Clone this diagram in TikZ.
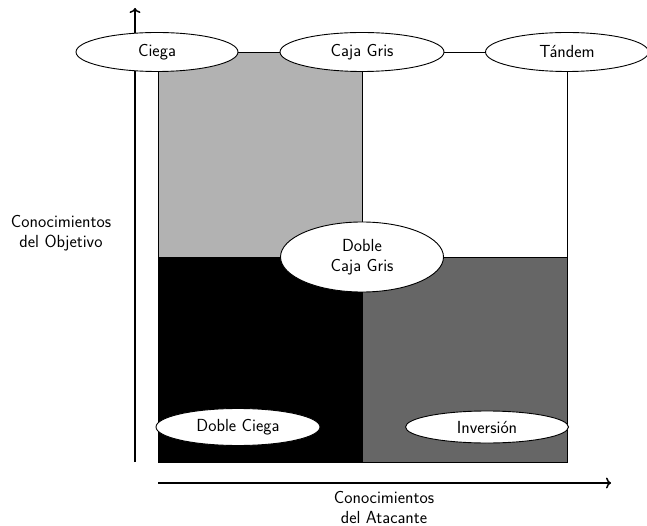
\documentclass[tikz,border=0pt]{standalone}
\usepackage{tikz}
\usetikzlibrary{shapes.geometric,arrows.meta}
\renewcommand{\familydefault}{\sfdefault}
\begin{document}
\begin{tikzpicture}[x=1pt,y=-1pt,
  lbl/.style={font=\fontsize{17.5}{20}\selectfont, align=center, inner sep=1pt},
  oval/.style={ellipse, draw, fill=white, line width=0.9pt, inner sep=0pt, font=\fontsize{17.5}{20}\selectfont, align=center},
  region/.style={draw, line width=0.9pt},
  axis/.style={line width=1.5pt, -{To[length=5pt,width=11pt]}}]
\useasboundingbox (0,0) rectangle (647,526);
% regions
\fill[black!30] (158,52) rectangle (362,257);
\draw[region, fill=black] (158,257) rectangle (362,462);
\draw[region, fill=black!60] (362,257) rectangle (567,462);
\draw[region] (158,257) -- (158,52) -- (567,52) -- (567,257);
\draw[region] (362,52) -- (362,257);
% axes
\coordinate (vy0) at (135,462);
\coordinate (vy1) at (135,8);
\coordinate (hx0) at (158,483);
\coordinate (hx1) at (611,483);
\draw[axis] (vy0) -- (vy1);
\draw[axis] (hx0) -- (hx1);
% nodes
\node[oval, minimum width=162pt, minimum height=39pt] (ciega) at (157,52) {Ciega};
\node[oval, minimum width=164pt, minimum height=39pt] (gris) at (362,52) {Caja Gris};
\node[oval, minimum width=163pt, minimum height=39pt] (tandem) at (567,52) {Tándem};
\node[oval, minimum width=163pt, minimum height=70pt] (dgris) at (362,257) {Doble\\Caja Gris};
\node[oval, minimum width=164pt, minimum height=37pt] (dciega) at (238,427) {Doble Ciega};
\node[oval, minimum width=163pt, minimum height=32pt] (inv) at (487,427) {Inversión};
\node[lbl] (objetivo) at (61,233) {Conocimientos\\del Objetivo};
\node[lbl] (atacante) at (384,507) {Conocimientos\\del Atacante};
\end{tikzpicture}
\end{document}
